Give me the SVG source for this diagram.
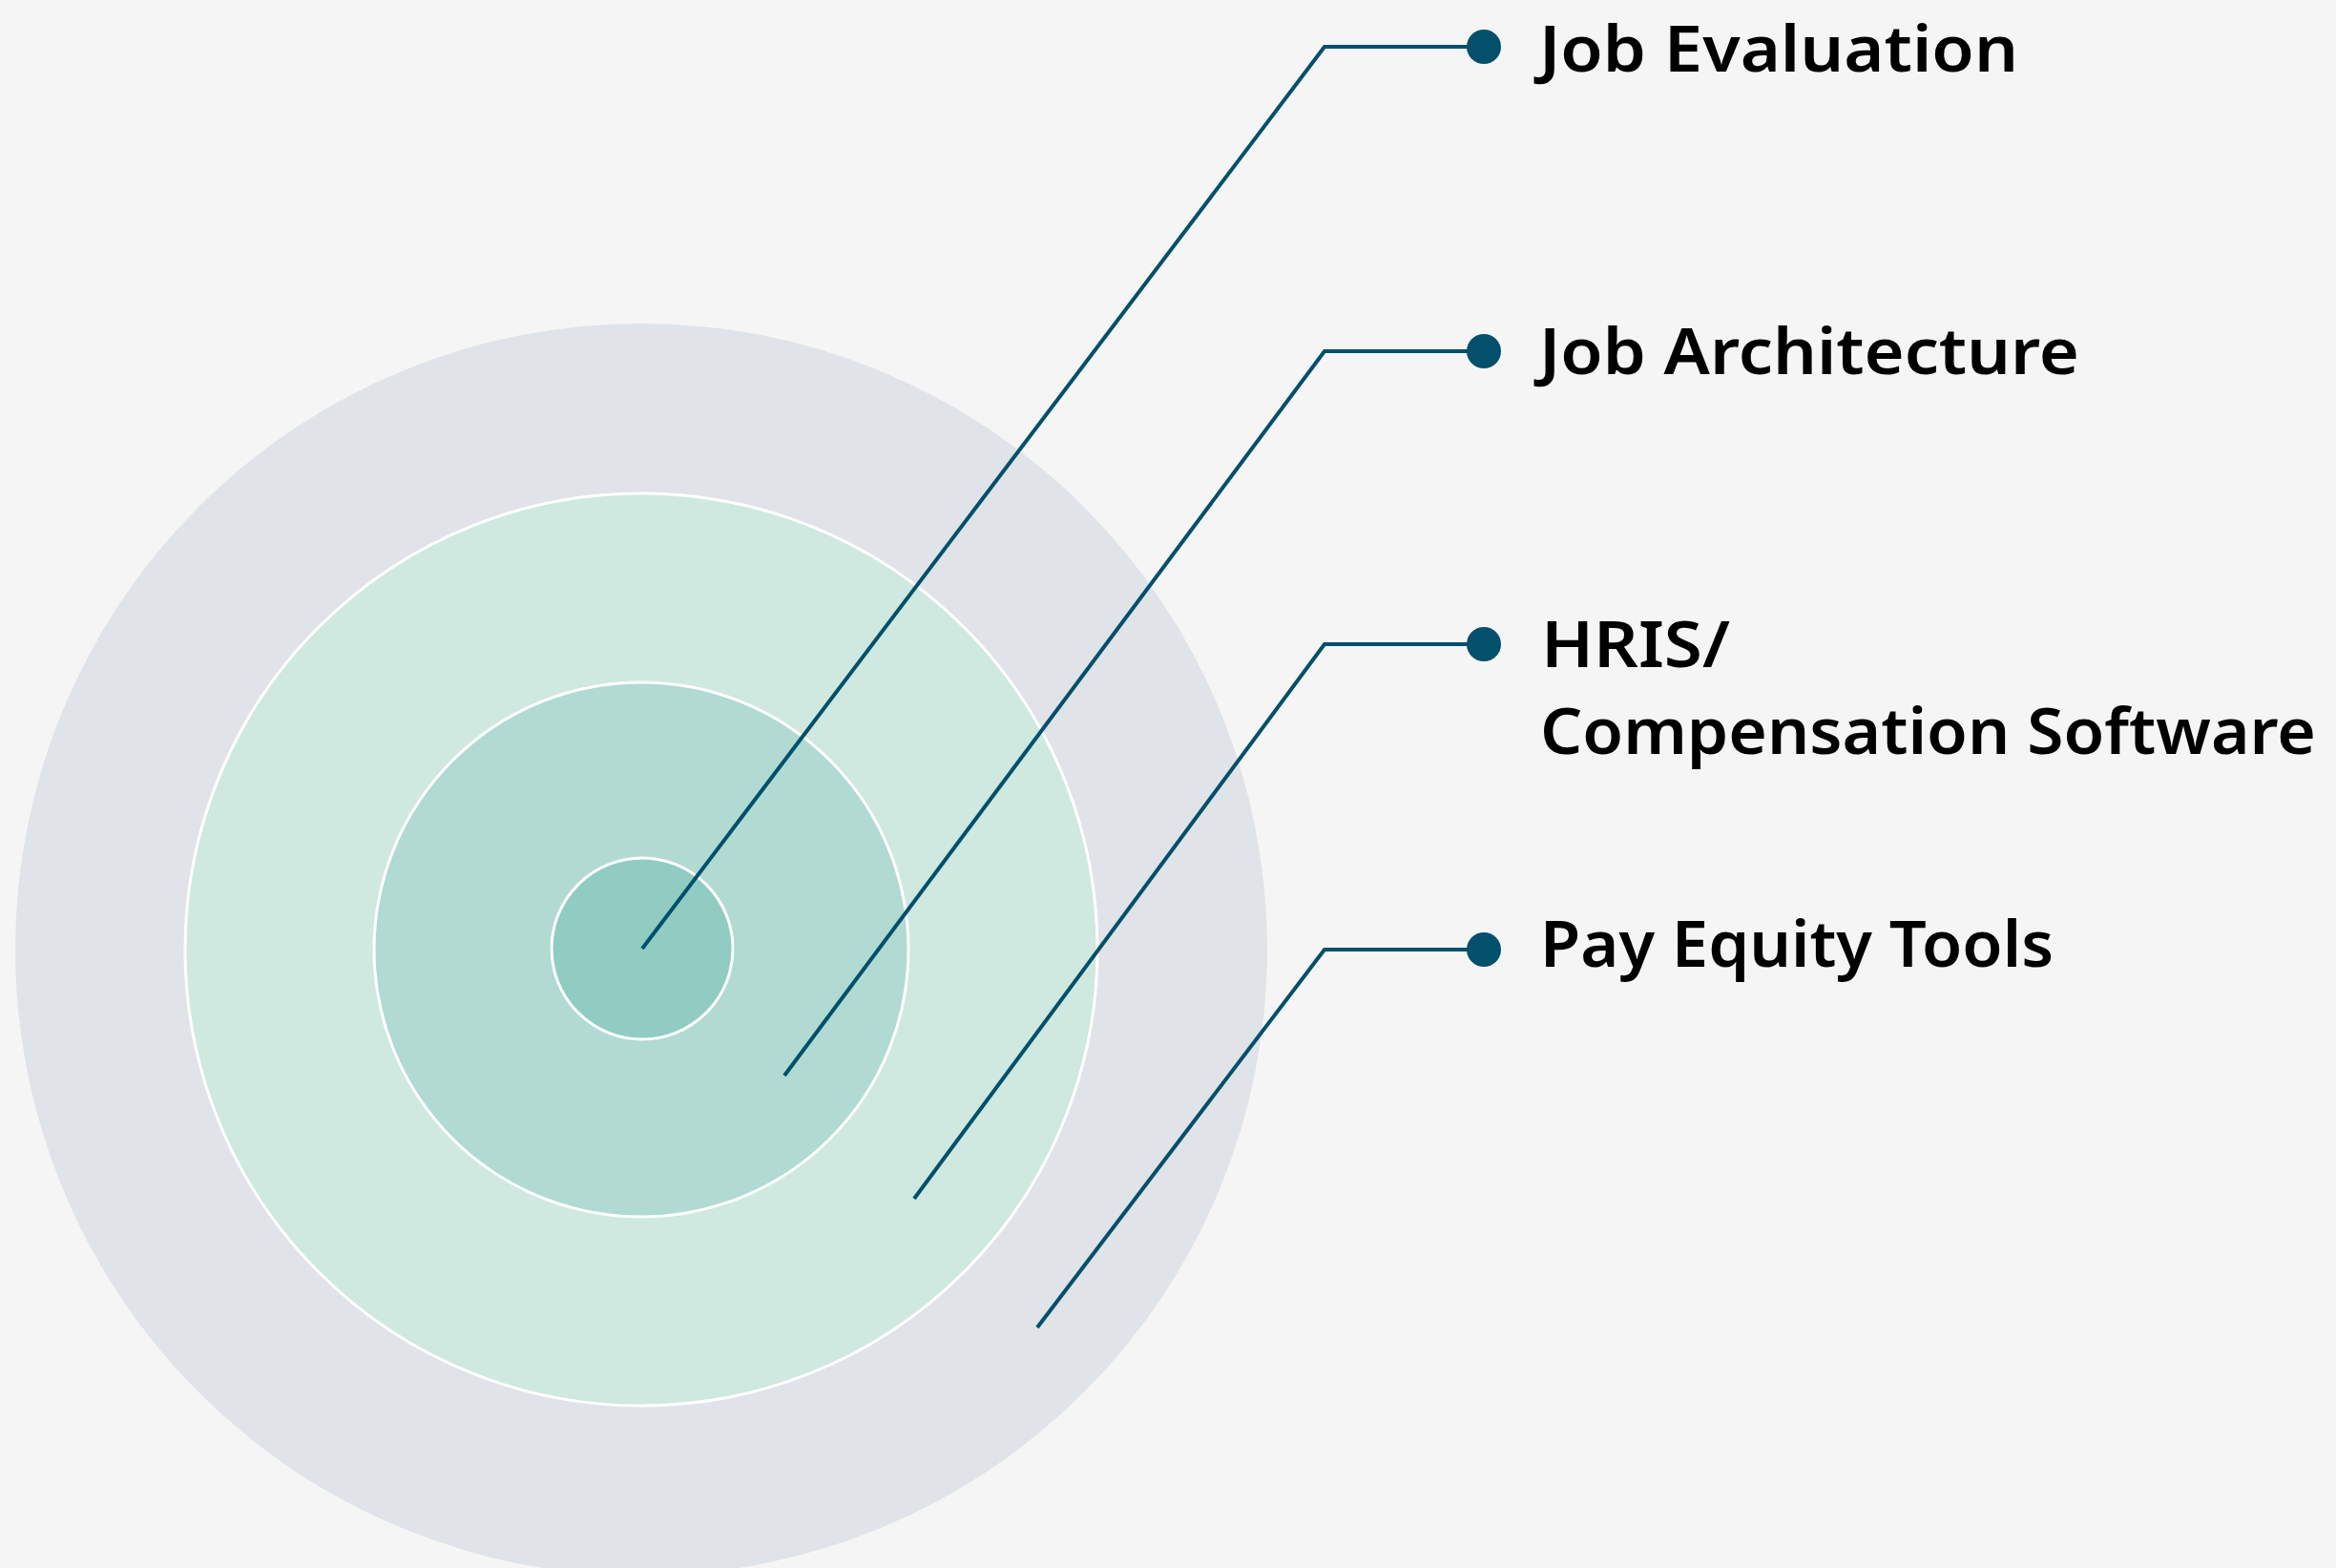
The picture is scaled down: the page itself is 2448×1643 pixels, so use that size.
<svg xmlns="http://www.w3.org/2000/svg" width="2448" height="1643" viewBox="0 0 2448 1643">
  <style>
    .ring { stroke: #ffffff; stroke-width: 3; }
    .leader { fill: none; stroke: #02506b; stroke-width: 4; stroke-linejoin: miter; }
    .dot { fill: #02506b; }
    .label { font-family: "Noto Sans", "Liberation Sans", sans-serif; font-weight: 600; font-size: 66px; fill: #000000; }
  </style>
  <rect width="2448" height="1643" fill="#f5f5f5"/>

  <!-- concentric rings -->
  <g id="rings">
    <circle id="ring-outer" cx="672" cy="995" r="656" fill="#e0e3e7"/>
    <circle id="ring-2" class="ring" cx="672" cy="995" r="478" fill="#cfe8e0"/>
    <circle id="ring-3" class="ring" cx="672" cy="995" r="280" fill="#b0dad2"/>
    <circle id="ring-core" class="ring" cx="673" cy="994" r="95" fill="#90ccc2"/>
  </g>

  <!-- leader lines from each ring to its label -->
  <g id="connectors">
    <polyline class="leader" points="673,994 1388,49 1554,49"/>
    <polyline class="leader" points="822,1127 1388,368 1554,368"/>
    <polyline class="leader" points="958,1256 1388,675 1554,675"/>
    <polyline class="leader" points="1087,1391 1388,995 1554,995"/>
  </g>

  <g id="node-job-evaluation">
    <circle class="dot" cx="1555" cy="49" r="18"/>
    <text class="label" x="1613" y="75" textLength="502" lengthAdjust="spacingAndGlyphs">Job Evaluation</text>
  </g>
  <g id="node-job-architecture">
    <circle class="dot" cx="1555" cy="368" r="18"/>
    <text class="label" x="1613" y="392" textLength="566" lengthAdjust="spacingAndGlyphs">Job Architecture</text>
  </g>
  <g id="node-hris">
    <circle class="dot" cx="1555" cy="675" r="18"/>
    <text class="label" x="1615" y="699" textLength="198" lengthAdjust="spacingAndGlyphs">HRIS/</text>
    <text class="label" x="1614" y="790" textLength="813" lengthAdjust="spacingAndGlyphs">Compensation Software</text>
  </g>
  <g id="node-pay-equity">
    <circle class="dot" cx="1555" cy="995" r="18"/>
    <text class="label" x="1614" y="1013" textLength="538" lengthAdjust="spacingAndGlyphs">Pay Equity Tools</text>
  </g>
</svg>
